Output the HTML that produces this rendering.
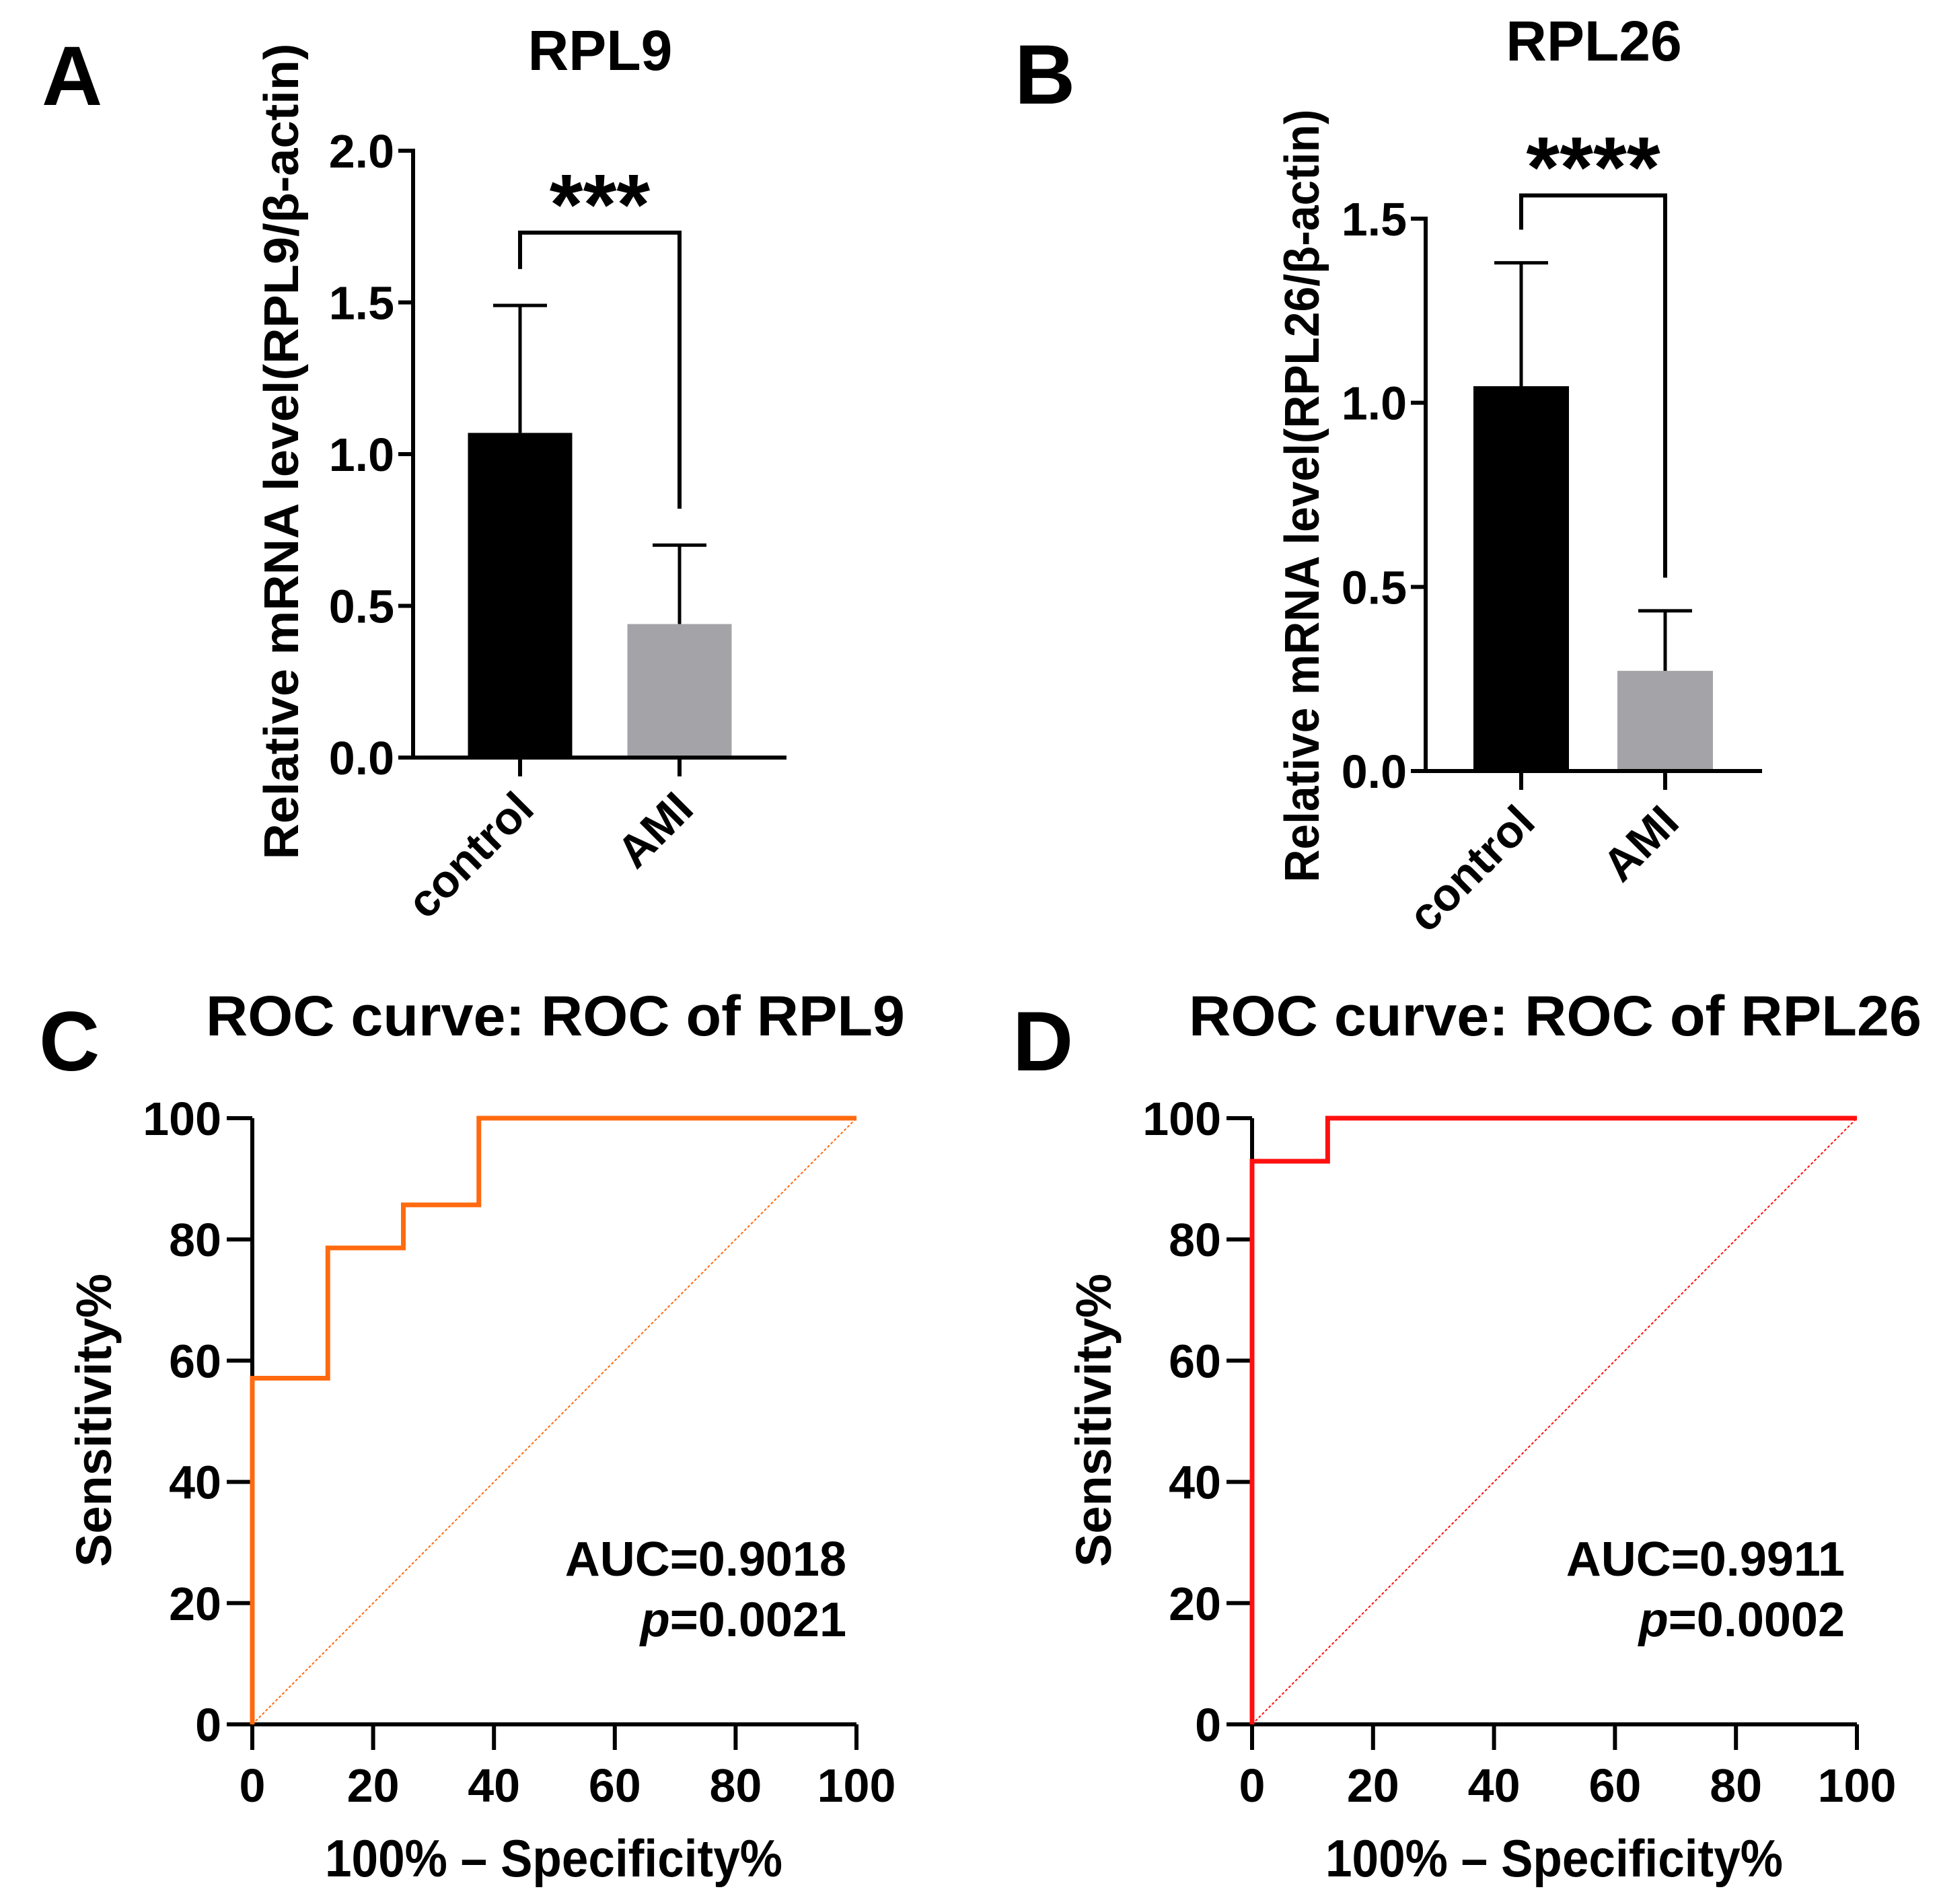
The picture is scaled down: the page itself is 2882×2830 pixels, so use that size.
<!DOCTYPE html>
<html><head><meta charset="utf-8"><style>
html,body{margin:0;padding:0;background:#fff;}
svg{display:block;font-family:"Liberation Sans",Arial,sans-serif;font-weight:bold;}
</style></head><body>
<svg id="fig" width="2882" height="2830" viewBox="0 0 2882 2830" xmlns="http://www.w3.org/2000/svg">
<rect width="2882" height="2830" fill="#fff"/>
</svg>
<script>
// ---- data ----
const barCategories = ["control", "AMI"];
const rpl9Means = [1.07, 0.44];
const rpl9Errors = [1.49, 0.70];
const rpl9Ticks = [0, 0.5, 1.0, 1.5, 2.0];
const rpl26Means = [1.045, 0.272];
const rpl26Errors = [1.38, 0.435];
const rpl26Ticks = [0, 0.5, 1.0, 1.5];
const rocTicks = [0, 20, 40, 60, 80, 100];
const rpl9RocX = [0, 0, 12.5, 12.5, 25, 25, 37.5, 37.5, 100];
const rpl9RocY = [0, 57.1, 57.1, 78.6, 78.6, 85.7, 85.7, 100, 100];
const rpl26RocX = [0, 0, 12.5, 12.5, 100];
const rpl26RocY = [0, 92.9, 92.9, 100, 100];

const svg = document.getElementById('fig');
const NS = 'http://www.w3.org/2000/svg';
function el(tag, attrs, parent, text) {
  const e = document.createElementNS(NS, tag);
  for (const k in attrs) e.setAttribute(k, attrs[k]);
  if (text !== undefined) e.textContent = text;
  (parent || svg).appendChild(e);
  return e;
}

function barPanel(o) {
  const g = el('g', {});
  
  
  const y = v => o.y0 - (v / o.ymax) * (o.y0 - o.ytop);
  let t;
  t = el('text', {x: o.letterX, y: o.letterY, 'font-size': 125}, g, o.letter);
   
  t = el('text', {x: o.titleX, y: o.titleY, 'font-size': 84, 'text-anchor': 'middle'}, g, o.title);
   
  t = el('text', {x: 0, y: 0, 'font-size': 72, 'text-anchor': 'middle', textLength: o.ytLen, lengthAdjust: 'spacingAndGlyphs', transform: `translate(${o.ytX},${o.ytY}) rotate(-90)`}, g, o.ytitle);
   
  for (let i = 0; i < barCategories.length; i++) {
    const cx = o.cx[i];
    const r = el('rect', {x: cx - o.bw / 2, y: y(o.means[i]), width: o.bw, height: o.y0 - y(o.means[i]), fill: i === 0 ? '#000' : '#a4a3a8'}, g);
     
    const eb = el('path', {d: `M${cx},${y(o.means[i])}V${y(o.errs[i])}M${cx - o.capw / 2},${y(o.errs[i])}H${cx + o.capw / 2}`, stroke: '#000', 'stroke-width': 5, fill: 'none'}, g);
     
    const tk = el('line', {x1: cx, x2: cx, y1: o.y0, y2: o.y0 + 28, stroke: '#000', 'stroke-width': 6}, g);
     
    const lb = el('text', {x: 0, y: 0, 'font-size': 68, 'text-anchor': 'end', transform: `translate(${cx + 24},${o.y0 + 80}) rotate(-45)`}, g, barCategories[i]);
     
  }
  const ax = el('path', {d: `M${o.x0},${o.ytop - 3}V${o.y0}H${o.xend}`, stroke: '#000', 'stroke-width': 6, fill: 'none'}, g);
   
  for (const v of o.ticks) {
    const tk = el('line', {x1: o.x0 - 22, x2: o.x0, y1: y(v), y2: y(v), stroke: '#000', 'stroke-width': 6}, g);
     
    const lb = el('text', {x: o.x0 - 28, y: y(v) + 25, 'font-size': 70, 'text-anchor': 'end'}, g, v.toFixed(1));
     
  }
  const br = el('path', {d: `M${o.cx[0]},${y(o.brL)}V${y(o.brTop)}H${o.cx[1]}V${y(o.brR)}`, stroke: '#000', 'stroke-width': 6, fill: 'none'}, g);
   
  t = el('text', {x: (o.cx[0] + o.cx[1]) / 2, y: y(o.brTop) + 2, 'font-size': 128, 'text-anchor': 'middle'}, g, o.stars);
   
}

barPanel({name: 'panel-a-rpl9-bar-chart', letter: 'A', letterX: 62, letterY: 156, title: 'RPL9', titleX: 892, titleY: 104,
  ytitle: 'Relative mRNA level(RPL9/β-actin)', ytX: 443, ytY: 671, ytLen: 1213,
  x0: 614, xend: 1169, y0: 1126, ytop: 224, ymax: 2.0, cx: [773, 1010], bw: 155, capw: 80,
  means: rpl9Means, errs: rpl9Errors, ticks: rpl9Ticks, brTop: 1.73, brL: 1.61, brR: 0.82, stars: '***'});
barPanel({name: 'panel-b-rpl26-bar-chart', letter: 'B', letterX: 1508, letterY: 154, title: 'RPL26', titleX: 2369, titleY: 90,
  ytitle: 'Relative mRNA level(RPL26/β-actin)', ytX: 1960, ytY: 737, ytLen: 1149,
  x0: 2119, xend: 2619, y0: 1146, ytop: 325, ymax: 1.5, cx: [2261, 2475], bw: 142, capw: 80,
  means: rpl26Means, errs: rpl26Errors, ticks: rpl26Ticks, brTop: 1.563, brL: 1.47, brR: 0.525, stars: '****'});

function rocPanel(o) {
  const g = el('g', {});
  
  
  const X = v => o.x0 + v / 100 * (o.x1 - o.x0);
  const Y = v => o.y0 - v / 100 * (o.y0 - o.y1);
  let t;
  t = el('text', {x: o.letterX, y: o.letterY, 'font-size': 125}, g, o.letter);
   
  t = el('text', {x: o.titleX1, y: 1539, 'font-size': 84, textLength: o.titleW, lengthAdjust: 'spacingAndGlyphs'}, g, o.title);
   
  const ax = el('path', {d: `M${o.x0},${o.y1}V${o.y0}H${o.x1}`, stroke: '#000', 'stroke-width': 6, fill: 'none'}, g);
   
  for (const v of rocTicks) {
    let tk = el('line', {x1: o.x0 - 38, x2: o.x0, y1: Y(v), y2: Y(v), stroke: '#000', 'stroke-width': 6}, g);
     
    let lb = el('text', {x: o.x0 - 46, y: Y(v) + 25, 'font-size': 70, 'text-anchor': 'end'}, g, String(v));
     
    tk = el('line', {x1: X(v), x2: X(v), y1: o.y0, y2: o.y0 + 38, stroke: '#000', 'stroke-width': 6}, g);
     
    lb = el('text', {x: X(v), y: 2678, 'font-size': 70, 'text-anchor': 'middle'}, g, String(v));
     
  }
  const d = el('line', {x1: X(0), y1: Y(0), x2: X(100), y2: Y(100), stroke: o.color, 'stroke-width': 2, 'stroke-dasharray': '4,3'}, g);
   
  const pts = o.xs.map((x, i) => X(x) + ',' + Y(o.ys[i])).join(' ');
  const c = el('polyline', {points: pts, stroke: o.color, 'stroke-width': 7, fill: 'none'}, g);
   
  t = el('text', {x: 0, y: 0, 'font-size': 74, 'text-anchor': 'middle', transform: `translate(${o.ytX},2111) rotate(-90)`}, g, 'Sensitivity%');
   
  t = el('text', {x: o.xtX, y: 2789, 'font-size': 78, 'text-anchor': 'middle', textLength: 680, lengthAdjust: 'spacingAndGlyphs'}, g, '100% – Specificity%');
   
  t = el('text', {x: o.aucR, y: 2342, 'font-size': 72, 'text-anchor': 'end'}, g, o.auc);
   
  t = el('text', {x: o.aucR, y: 2432, 'font-size': 72, 'text-anchor': 'end'}, g);
   
  el('tspan', {'font-style': 'italic'}, t, 'p');
  el('tspan', {}, t, o.p);
}

rocPanel({name: 'panel-c-rpl9-roc', letter: 'C', letterX: 58, letterY: 1591, title: 'ROC curve: ROC of RPL9', titleX1: 306, titleW: 1039,
  x0: 375, x1: 1273, y0: 2563, y1: 1662, color: '#ff6a10', xs: rpl9RocX, ys: rpl9RocY,
  ytX: 165, xtX: 823, aucR: 1258, auc: 'AUC=0.9018', p: '=0.0021'});
rocPanel({name: 'panel-d-rpl26-roc', letter: 'D', letterX: 1505, letterY: 1591, title: 'ROC curve: ROC of RPL26', titleX1: 1767, titleW: 1089,
  x0: 1861, x1: 2760, y0: 2563, y1: 1662, color: '#ff1010', xs: rpl26RocX, ys: rpl26RocY,
  ytX: 1651, xtX: 2310, aucR: 2742, auc: 'AUC=0.9911', p: '=0.0002'});
</script>
</body></html>
